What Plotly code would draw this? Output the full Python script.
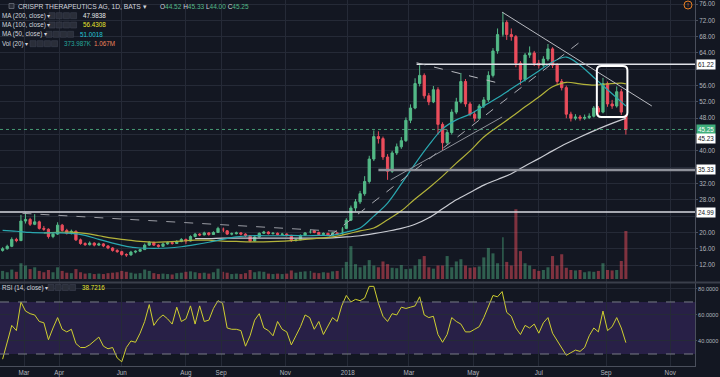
import pandas as pd
import plotly.graph_objects as go

# ---------------- data ----------------
HOLIDAYS = ["2017-02-20", "2017-04-14", "2017-05-29", "2017-07-04", "2017-09-04",
            "2017-11-23", "2017-12-25", "2018-01-01", "2018-01-15", "2018-02-19",
            "2018-03-30", "2018-05-28", "2018-07-04", "2018-09-03", "2018-11-22"]
trading_days = pd.bdate_range("2017-01-30", "2018-11-30", freq="C", holidays=HOLIDAYS)
i0 = trading_days.get_loc(pd.Timestamp("2017-03-01"))
candle_dates = [d.strftime("%Y-%m-%d") for d in trading_days[i0 - 14:i0 + 395:3]]
ma_dates = candle_dates[0::3] + [candle_dates[-1]]

OPEN = [15.6, 16.0, 16.6, 18.3, 18.0, 22.8, 23.2, 22.0, 22.6, 21.0,
        20.8, 19.0, 19.6, 21.8, 20.5, 19.8, 20.3, 18.2, 17.3, 17.0,
        17.4, 16.9, 17.2, 16.7, 16.2, 15.6, 15.3, 14.6, 14.5, 15.2,
        15.4, 15.8, 16.9, 17.6, 16.9, 16.6, 17.2, 17.5, 17.3, 17.8,
        18.3, 17.9, 19.0, 19.6, 19.4, 19.9, 19.5, 20.0, 21.0, 20.4,
        19.6, 19.7, 19.9, 19.6, 19.2, 17.9, 18.9, 19.8, 20.1, 19.7,
        19.8, 19.5, 19.6, 19.3, 18.0, 18.2, 19.3, 19.9, 20.4, 20.0,
        19.5, 19.8, 19.3, 19.9, 19.6, 21.0, 23.0, 26.0, 27.5, 29.5,
        32.5, 38.0, 43.5, 43.0, 38.5, 35.0, 39.5, 41.0, 42.5, 47.5,
        50.5, 56.5, 58.5, 53.5, 52.0, 55.0, 46.5, 42.0, 44.5, 49.5,
        52.0, 57.0, 51.5, 49.0, 48.0, 51.0, 52.5, 58.5, 64.5, 68.5,
        71.5, 68.5, 68.0, 61.5, 57.5, 63.5, 64.0, 61.5, 61.0, 62.5,
        65.0, 61.0, 57.0, 55.5, 49.0, 48.0, 48.3, 48.0, 48.2, 48.5,
        50.5, 49.5, 56.5, 51.5, 51.0, 54.5, 48.6]
HIGH = [16.4, 17.0, 18.8, 18.7, 24.3, 24.9, 23.6, 24.5, 22.9, 21.6,
        21.0, 20.0, 22.5, 22.1, 20.9, 20.7, 20.5, 18.5, 17.6, 17.8,
        17.6, 17.5, 17.4, 16.9, 16.4, 15.9, 15.5, 14.9, 15.5, 15.6,
        16.0, 17.3, 17.9, 17.7, 17.1, 17.5, 17.8, 17.7, 18.1, 18.6,
        18.5, 19.3, 19.9, 19.8, 20.2, 20.1, 20.3, 21.4, 21.2, 20.6,
        20.0, 20.2, 20.1, 19.8, 19.3, 19.1, 20.0, 20.4, 20.3, 20.1,
        20.0, 19.9, 19.8, 19.4, 18.5, 19.5, 20.1, 20.7, 20.6, 20.2,
        20.0, 19.9, 20.1, 20.0, 21.3, 23.5, 26.6, 28.2, 30.2, 33.8,
        38.8, 45.0, 44.8, 43.5, 39.2, 40.0, 41.8, 43.4, 48.2, 51.4,
        57.8, 61.0, 59.0, 54.2, 55.9, 55.6, 47.0, 45.2, 50.2, 53.0,
        59.1, 57.6, 52.0, 49.8, 51.5, 53.2, 59.5, 65.2, 70.0, 74.0,
        72.0, 70.0, 68.4, 62.0, 64.0, 65.6, 64.5, 62.3, 63.2, 66.2,
        65.4, 61.5, 57.6, 56.0, 49.6, 49.0, 48.8, 48.9, 49.2, 51.0,
        51.0, 57.9, 57.0, 52.5, 55.8, 55.2, 48.9]
LOW = [15.3, 15.8, 16.4, 17.6, 17.9, 22.2, 21.6, 21.8, 20.7, 20.4,
       18.5, 18.6, 19.4, 20.2, 19.5, 19.5, 17.9, 17.0, 16.7, 16.8,
       16.6, 16.7, 16.4, 15.9, 15.3, 15.0, 14.3, 14.0, 14.3, 14.9,
       15.2, 15.7, 16.7, 16.7, 16.3, 16.5, 17.0, 17.0, 17.2, 17.6,
       17.2, 17.8, 18.8, 19.1, 19.3, 19.2, 19.4, 19.9, 20.1, 19.4,
       19.3, 19.5, 19.3, 18.9, 17.6, 17.8, 18.8, 19.6, 19.5, 19.5,
       19.3, 19.3, 19.0, 17.7, 17.8, 18.1, 19.2, 19.8, 19.8, 19.3,
       19.4, 19.1, 19.2, 19.4, 19.5, 20.8, 22.8, 25.2, 27.0, 29.0,
       32.0, 37.5, 41.8, 37.8, 32.9, 34.6, 39.0, 40.5, 42.2, 46.8,
       50.2, 55.8, 52.8, 51.2, 51.7, 44.0, 40.2, 41.5, 44.0, 49.0,
       51.6, 50.8, 48.5, 47.2, 47.6, 50.5, 52.0, 58.0, 63.8, 68.0,
       67.2, 67.0, 60.5, 56.2, 57.0, 62.8, 60.8, 60.2, 60.6, 62.0,
       60.3, 56.4, 54.8, 48.0, 47.2, 47.5, 47.4, 47.6, 47.8, 48.2,
       48.8, 49.2, 50.8, 50.3, 50.6, 48.8, 44.0]
CLOSE = [16.0, 16.6, 18.3, 18.0, 22.8, 23.2, 22.0, 22.6, 21.0, 20.8,
         19.0, 19.6, 21.8, 20.5, 19.8, 20.3, 18.2, 17.3, 17.0, 17.4,
         16.9, 17.2, 16.7, 16.2, 15.6, 15.3, 14.6, 14.5, 15.2, 15.4,
         15.8, 16.9, 17.6, 16.9, 16.6, 17.2, 17.5, 17.3, 17.8, 18.3,
         17.9, 19.0, 19.6, 19.4, 19.9, 19.5, 20.0, 21.0, 20.4, 19.6,
         19.7, 19.9, 19.6, 19.2, 17.9, 18.9, 19.8, 20.1, 19.7, 19.8,
         19.5, 19.6, 19.3, 18.0, 18.2, 19.3, 19.9, 20.4, 20.0, 19.5,
         19.8, 19.3, 19.9, 19.6, 21.0, 23.0, 26.0, 27.5, 29.5, 32.5,
         38.0, 43.5, 43.0, 38.5, 35.0, 39.5, 41.0, 42.5, 47.5, 50.5,
         56.5, 58.5, 53.5, 52.0, 55.0, 46.5, 42.0, 44.5, 49.5, 52.0,
         57.0, 51.5, 49.0, 48.0, 51.0, 52.5, 58.5, 64.5, 68.5, 71.5,
         68.5, 68.0, 61.5, 57.5, 63.5, 64.0, 61.5, 61.0, 62.5, 65.0,
         61.0, 57.0, 55.5, 49.0, 48.0, 48.3, 48.0, 48.2, 48.5, 50.5,
         49.5, 56.5, 51.5, 51.0, 54.5, 49.5, 45.25]
VOLUME_K = [180, 150, 210, 160, 350, 300, 220, 260, 180, 150,
            200, 150, 260, 180, 140, 130, 220, 150, 120, 130,
            110, 120, 110, 130, 140, 150, 180, 160, 140, 120,
            130, 210, 180, 130, 110, 120, 110, 100, 130, 140,
            160, 170, 150, 130, 140, 120, 150, 230, 160, 140,
            110, 120, 110, 130, 200, 150, 170, 160, 120, 110,
            120, 110, 120, 190, 140, 160, 170, 180, 140, 130,
            150, 140, 170, 180, 250, 380, 730, 330, 260, 300,
            420, 300, 260, 390, 330, 250, 240, 310, 220, 230,
            300, 440, 510, 260, 230, 300, 300, 510, 260, 390,
            440, 300, 250, 260, 280, 480, 690, 570, 350, 930,
            380, 300, 1550, 620, 350, 300, 220, 180, 200, 260,
            510, 300, 550, 250, 200, 190, 200, 150, 170, 160,
            180, 350, 200, 190, 200, 400, 1067]
RSI = [26, 38, 52, 48, 70, 63, 61, 60, 55, 54,
       41, 50, 58, 49, 47, 49, 38, 35, 35, 37,
       40, 43, 36, 34, 35, 27, 24, 35, 40, 39,
       46, 55, 68, 52, 57, 60, 57, 53, 66, 55,
       57, 67, 53, 67, 55, 56, 65, 71, 69, 50,
       49, 49, 48, 36, 44, 56, 61, 50, 48, 44,
       55, 49, 47, 37, 44, 51, 60, 58, 49, 55,
       45, 52, 58, 55, 67, 75, 70, 72, 71, 73,
       82, 82, 69, 59, 55, 61, 60, 66, 65, 66,
       67, 74, 60, 58, 59, 45, 39, 45, 58, 55,
       53, 47, 47, 49, 51, 58, 66, 75, 74, 78,
       62, 59, 50, 45, 52, 50, 53, 46, 54, 58,
       46, 40, 34, 29, 31, 33, 32, 35, 44, 50,
       47, 63, 48, 51, 58, 50, 38.72]
MA50 = [20.5, 20.3, 20.0, 19.9, 19.9, 19.8, 19.3, 18.3, 17.4, 16.6,
        16.2, 16.1, 16.2, 16.5, 17.0, 17.6, 18.3, 18.9, 19.2, 19.2,
        19.2, 19.3, 19.2, 19.3, 19.3, 20.1, 21.1, 24.0, 27.2, 31.9,
        36.8, 41.4, 45.4, 47.6, 49.0, 51.0, 53.0, 55.2, 57.4, 59.6,
        61.8, 63.0, 61.0, 58.0, 55.0, 52.0, 51.0]
MA100 = [None, None, None, 19.9, 20.0, 20.1, 19.8, 19.2, 18.6, 18.2,
         17.8, 17.6, 17.7, 17.9, 18.1, 18.1, 17.9, 17.8, 17.7, 17.7,
         17.8, 18.0, 18.3, 18.6, 18.9, 19.6, 20.4, 21.1, 23.1, 25.3,
         28.2, 30.9, 33.8, 37.0, 40.0, 43.4, 45.9, 48.3, 50.8, 53.2,
         55.7, 56.8, 56.4, 56.1, 56.4, 56.6, 56.43]
MA200 = [None, None, None, None, None, None, None, None, None, None,
         None, None, None, None, 18.5, 18.5, 18.6, 18.6, 18.6, 18.6,
         18.6, 18.6, 18.6, 18.6, 18.7, 18.9, 19.2, 19.7, 20.3, 21.0,
         22.0, 23.6, 25.8, 28.0, 29.8, 31.6, 33.0, 34.4, 36.3, 38.1,
         40.0, 41.8, 43.4, 44.9, 46.3, 47.6, 47.98]

TICK_DATES = ["2017-03-01", "2017-04-03", "2017-06-01", "2017-08-01", "2017-09-01",
              "2017-11-01", "2018-01-02", "2018-03-01", "2018-05-01", "2018-07-02",
              "2018-09-04", "2018-11-01"]
TICK_TEXT = ["Mar", "Apr", "Jun", "Aug", "Sep", "Nov", "2018", "Mar", "May", "Jul", "Sep", "Nov"]
PRICE_TICKS = list(range(12, 77, 4))
HIDDEN_PRICE_LABELS = [24, 36, 44, 60]   # covered by the level tags in the reference
RSI_TICKS = [40, 60, 80]
LEVELS = {"61.22": 61.22, "35.33": 35.33, "24.99": 24.99}
LAST_PRICE = 45.25

# ---------------- style ----------------
BG = "#131722"
GRID = "#252a37"
AXIS = "#4a4f5c"
TXT = "#b2b5be"
GREEN = "#53b987"
RED = "#eb4d5c"
FONT = "Liberation Sans"
X_RANGE = ["2017-02-06 07:00", "2018-11-26 06:00"]
PLOT_H = 366.0
PLOT_W = 695.0


def py(ypx):
    return 1 - ypx / PLOT_H


def px(xpx):
    return xpx / PLOT_W


vol_colors = ["rgba(83,185,135,0.45)" if c >= o else "rgba(235,77,92,0.5)"
              for o, c in zip(OPEN, CLOSE)]
price_ticktext = ["" if v in HIDDEN_PRICE_LABELS else f"{v:.2f}" for v in PRICE_TICKS]

fig = go.Figure()
fig.add_trace(go.Bar(x=candle_dates, y=[v * 1000 for v in VOLUME_K], yaxis="y3",
                     marker=dict(color=vol_colors, line=dict(width=0)),
                     width=2 * 86400000, hoverinfo="skip"))
fig.add_trace(go.Candlestick(x=candle_dates, open=OPEN, high=HIGH, low=LOW, close=CLOSE,
                             increasing=dict(line=dict(color=GREEN, width=1), fillcolor=GREEN),
                             decreasing=dict(line=dict(color=RED, width=1), fillcolor=RED),
                             whiskerwidth=0, yaxis="y"))
fig.add_trace(go.Scatter(x=ma_dates, y=MA200, mode="lines", yaxis="y",
                         line=dict(color="#c9cbd2", width=1.2, shape="spline")))
fig.add_trace(go.Scatter(x=ma_dates, y=MA100, mode="lines", yaxis="y",
                         line=dict(color="#b3b33a", width=1.2, shape="spline")))
fig.add_trace(go.Scatter(x=ma_dates, y=MA50, mode="lines", yaxis="y",
                         line=dict(color="#2aa8b0", width=1.2, shape="spline")))
fig.add_trace(go.Scatter(x=candle_dates, y=RSI, mode="lines", yaxis="y2",
                         line=dict(color="#cfcf30", width=1)))

shapes = []
# RSI band and levels
shapes.append(dict(type="rect", xref="paper", yref="y2", x0=0, x1=1, y0=30, y1=70,
                   fillcolor="rgba(103,58,183,0.25)", line=dict(width=0), layer="below"))
for lv in (70, 30):
    shapes.append(dict(type="line", xref="paper", yref="y2", x0=0, x1=1, y0=lv, y1=lv,
                       line=dict(color="#787b86", width=1, dash="dash")))
# pane separator
shapes.append(dict(type="line", xref="paper", yref="paper", x0=0, x1=720 / PLOT_W,
                   y0=0.2282, y1=0.2282, line=dict(color="#3a3f4b", width=2)))
# horizontal levels
shapes.append(dict(type="line", xref="x", yref="y", x0=X_RANGE[0], x1=X_RANGE[1],
                   y0=LEVELS["24.99"], y1=LEVELS["24.99"], line=dict(color="#d8dae0", width=1.5)))
shapes.append(dict(type="line", xref="x", yref="y", x0="2018-01-31", x1=X_RANGE[1],
                   y0=LEVELS["35.33"], y1=LEVELS["35.33"], line=dict(color="#8e919a", width=2.5)))
shapes.append(dict(type="line", xref="x", yref="y", x0="2018-03-08", x1=X_RANGE[1],
                   y0=LEVELS["61.22"], y1=LEVELS["61.22"], line=dict(color="#e0e2e8", width=1.5)))
shapes.append(dict(type="line", xref="x", yref="y", x0=X_RANGE[0], x1=X_RANGE[1],
                   y0=LAST_PRICE, y1=LAST_PRICE, line=dict(color="rgba(83,185,135,0.8)", width=1, dash="dot")))
# trend drawings
shapes.append(dict(type="line", xref="x", yref="y", x0="2017-02-28", y0=24.7, x1="2017-12-27", y1=20.2,
                   line=dict(color="#9a9ca4", width=1, dash="dash")))
shapes.append(dict(type="line", xref="x", yref="y", x0="2017-12-13", y0=19.1, x1="2018-08-09", y1=66.7,
                   line=dict(color="#a9abb2", width=1, dash="dash")))
shapes.append(dict(type="line", xref="x", yref="y", x0="2018-02-12", y0=32.9, x1="2018-05-29", y1=48.3,
                   line=dict(color="#8e919a", width=1)))
shapes.append(dict(type="line", xref="x", yref="y", x0="2018-03-08", y0=61.6, x1="2018-05-29", y1=56.4,
                   line=dict(color="#b8bac0", width=1, dash="dash")))
shapes.append(dict(type="line", xref="x", yref="y", x0="2018-05-29", y0=74.0, x1="2018-10-16", y1=51.0,
                   line=dict(color="#b8bac0", width=1)))
# rounded highlight box
bx0, bxa, bxb, bx1 = "2018-08-24", "2018-08-29", "2018-09-19", "2018-09-24"
by0, by0r, by1r, by1 = 48.3, 49.4, 59.7, 60.8
path = (f"M{bxa},{by1} L{bxb},{by1} Q{bx1},{by1} {bx1},{by1r} L{bx1},{by0r} "
        f"Q{bx1},{by0} {bxb},{by0} L{bxa},{by0} Q{bx0},{by0} {bx0},{by0r} "
        f"L{bx0},{by1r} Q{bx0},{by1} {bxa},{by1} Z")
shapes.append(dict(type="path", xref="x", yref="y", path=path,
                   line=dict(color="#ffffff", width=2)))

# legend icons
def icons(x_start, y_center, n=4):
    out = []
    for i in range(n):
        x0 = x_start + i * 7.2
        out.append(dict(type="rect", xref="paper", yref="paper",
                        x0=px(x0), x1=px(x0 + 6), y0=py(y_center + 3), y1=py(y_center - 3),
                        fillcolor="#2a2e39", line=dict(color="#3d4250", width=0.6)))
    return out

shapes += icons(49, 15.7) + icons(49, 25) + icons(46, 34.3) + icons(30, 43.7) + icons(48, 287.5)
shapes.append(dict(type="rect", xref="paper", yref="paper", x0=px(9), x1=px(14), y0=py(8.5), y1=py(3.5),
                   fillcolor="#2a2e39", line=dict(color="#6a6e7a", width=0.8)))
shapes.append(dict(type="circle", xref="paper", yref="paper", x0=px(684), x1=px(692), y0=py(9), y1=py(1),
                   line=dict(color="#e67e22", width=1)))

ann = []
def txt(x, y, text, size=6.3, color="#d1d4dc"):
    ann.append(dict(xref="paper", yref="paper", x=px(x), y=py(y), xanchor="left", yanchor="middle",
                    text=text, showarrow=False, font=dict(family=FONT, size=size, color=color)))

g = GREEN
txt(16, 6.2, "CRISPR THERAPEUTICS AG, 1D, BATS ▾", size=6.7)
txt(158, 6.2, f"O<span style='color:{g}'>44.52</span> H<span style='color:{g}'>45.33</span> "
              f"L<span style='color:{g}'>44.00</span> C<span style='color:{g}'>45.25</span>", size=6.5)
txt(0, 15.7, "MA (200, close) ▾")
txt(81, 15.7, "47.9838", color="#e8e8e8")
txt(0, 25, "MA (100, close) ▾")
txt(81, 25, "56.4308", color="#e6e62e")
txt(0, 34.3, "MA (50, close) ▾")
txt(78, 34.3, "51.0018", color="#22c3d6")
txt(0, 43.7, "Vol (20) ▾")
txt(62, 43.7, "373.987K", color="#26a69a")
txt(92, 43.7, "1.067M", color="#f0845c")
txt(0, 287.5, "RSI (14, close) ▾")
txt(80, 287.5, "38.7216", color="#e6e62e")
ann.append(dict(xref="paper", yref="paper", x=px(688), y=py(5), text="!", showarrow=False,
                font=dict(family=FONT, size=6, color="#e67e22"), xanchor="center", yanchor="middle"))

def price_box(val, text, bg, fg, shift=0):
    ann.append(dict(xref="paper", yref="y", x=1, y=val, xanchor="left", yanchor="middle",
                    text=text, showarrow=False, bgcolor=bg, borderpad=1, xshift=1, yshift=shift,
                    font=dict(family=FONT, size=6.3, color=fg)))

for k, v in LEVELS.items():
    price_box(v, k, "#ffffff", "#131722")
price_box(LAST_PRICE, f"{LAST_PRICE:.2f}", "#3fae7c", "#ffffff")
price_box(45.23, "45.23", "#ffffff", "#131722", shift=-9)

TF = dict(size=6.3, color=TXT, family=FONT)
TF_RSI = dict(size=5.6, color=TXT, family=FONT)
fig.update_layout(
    width=720, height=377, margin=dict(l=0, r=25, t=0, b=11),
    paper_bgcolor=BG, plot_bgcolor=BG, showlegend=False,
    font=dict(family=FONT, size=6.3, color=TXT),
    shapes=shapes, annotations=ann,
    xaxis=dict(type="date", range=X_RANGE, anchor="y2",
               rangebreaks=[dict(bounds=["sat", "mon"]), dict(values=HOLIDAYS)],
               rangeslider=dict(visible=False), tickvals=TICK_DATES, ticktext=TICK_TEXT,
               showgrid=True, gridcolor=GRID, gridwidth=1, zeroline=False,
               showline=True, linecolor=AXIS, ticks="", tickfont=TF, automargin=False),
    yaxis=dict(domain=[0.2295, 1], range=[7.86, 76.98], side="right", anchor="x",
               tickvals=PRICE_TICKS, ticktext=price_ticktext, showgrid=True, gridcolor=GRID,
               zeroline=False, showline=True, linecolor=AXIS, ticks="outside", ticklen=2,
               tickcolor=AXIS, tickfont=TF, automargin=False),
    yaxis2=dict(domain=[0, 0.2268], range=[20.77, 84.6], side="right", anchor="x",
                tickvals=RSI_TICKS, tickformat=".4f", showgrid=True, gridcolor=GRID,
                zeroline=False, showline=True, linecolor=AXIS, ticks="outside", ticklen=1,
                tickcolor=AXIS, tickfont=TF_RSI, automargin=False),
    yaxis3=dict(overlaying="y", range=[-66700, 6.2e6], visible=False, showgrid=False),
)

fig.write_html("out.html", config={"displayModeBar": False},
               post_script="document.body.style.margin='0';document.body.style.background='#131722';")
